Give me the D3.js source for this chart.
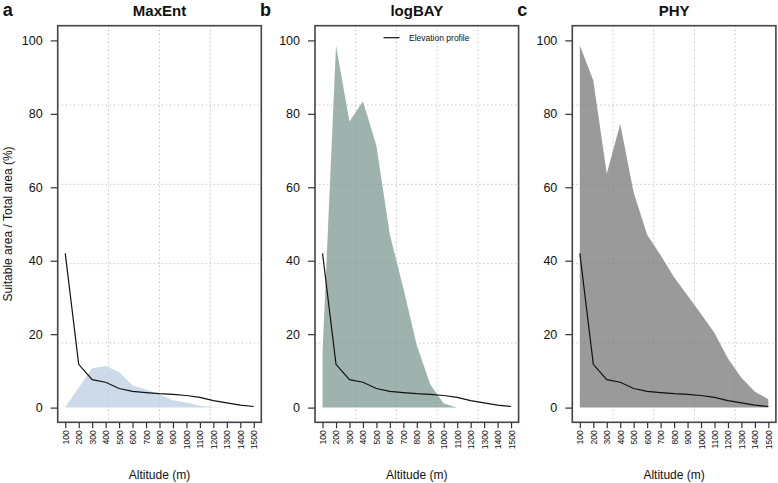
<!DOCTYPE html>
<html><head><meta charset="utf-8">
<script src="https://cdn.jsdelivr.net/npm/d3@7"></script>
<style>
body{margin:0;background:#fff}
svg{display:block;font-family:"Liberation Sans",Arial,Helvetica,sans-serif}
</style>
</head><body>
<svg id="chart" width="778" height="483"></svg>
<script>
// ---- data ----
const altitudes = [100,200,300,400,500,600,700,800,900,1000,1100,1200,1300,1400,1500];
const elevationProfile = [42.0,11.8,7.6,6.9,5.2,4.4,4.1,3.8,3.6,3.3,2.8,1.9,1.3,0.7,0.3];
const maxentArea = [0,5.5,10.7,11.3,9.7,6.0,4.9,3.6,2.0,1.4,0.5,0.2,0,0,0];
const logbayArea = [15,98.6,77.9,83.4,71.3,47.1,32.5,17.0,6.3,1.1,0,0,0,0,0];
const phyArea = [98.6,89.1,63.7,77.2,58.5,47.1,41.5,35.5,30.5,25.5,20.3,13.4,8.1,4.3,2.3];
const panelTitles = ["MaxEnt","logBAY","PHY"];
const panelLetters = ["a","b","c"];
const yTicks = [0,20,40,60,80,100];
const xTicks = altitudes;
const legendLabel = "Elevation profile";
const xLabel = "Altitude (m)";
const yLabel = "Suitable area / Total area (%)";

// ---- layout / styles ----
const panelLeft = [57.7, 315, 572.3];
const panelW = 203.6;
const plotTop = 25.7, plotBottom = 422.3;
const gridCols = [4,5,5];
const fills = ["#bfd1e5","#86a098","#818181"];
const seriesList = [maxentArea, logbayArea, phyArea];
const xDomain = [44,1556], yDomain = [-4,104];

const svg = d3.select("#chart");

panelTitles.forEach((title, i) => {
  const L = panelLeft[i];
  const x = d3.scaleLinear().domain(xDomain).range([L, L + panelW]);
  const y = d3.scaleLinear().domain(yDomain).range([plotBottom, plotTop]);
  const g = svg.append("g");

  // grid (equal divisions of plot region)
  const gx = d3.range(1, gridCols[i]).map(k => xDomain[0] + (xDomain[1]-xDomain[0]) * k / gridCols[i]);
  const gy = d3.range(1, 5).map(k => yDomain[0] + (yDomain[1]-yDomain[0]) * k / 5);
  g.selectAll(".gx").data(gx).join("line")
    .attr("x1", d => x(d)).attr("x2", d => x(d))
    .attr("y1", plotTop).attr("y2", plotBottom)
    .attr("stroke", "#c4c4c4").attr("stroke-width", 1).attr("stroke-dasharray", "1.5,2.5");
  g.selectAll(".gy").data(gy).join("line")
    .attr("y1", d => y(d)).attr("y2", d => y(d))
    .attr("x1", L).attr("x2", L + panelW)
    .attr("stroke", "#c4c4c4").attr("stroke-width", 1).attr("stroke-dasharray", "1.5,2.5");

  // area
  const vals = seriesList[i];
  const area = d3.area()
    .x((d, j) => x(altitudes[j]))
    .y0(y(0))
    .y1(d => y(d));
  g.append("path").datum(vals).attr("d", area)
    .attr("fill", fills[i]).attr("fill-opacity", 0.8);

  // elevation line
  const line = d3.line().x((d, j) => x(altitudes[j])).y(d => y(d));
  g.append("path").datum(elevationProfile).attr("d", line)
    .attr("fill", "none").attr("stroke", "#111").attr("stroke-width", 1.2);

  // box
  g.append("rect").attr("x", L).attr("y", plotTop)
    .attr("width", panelW).attr("height", plotBottom - plotTop)
    .attr("fill", "none").attr("stroke", "#444").attr("stroke-width", 1.6);

  // y axis
  const ya = g.append("g").attr("transform", `translate(${L},0)`)
    .call(d3.axisLeft(y).tickValues(yTicks).tickSize(7).tickPadding(8).tickSizeOuter(0));
  ya.select(".domain").remove();
  ya.selectAll("line").attr("stroke", "#333").attr("stroke-width", 1.2);
  ya.selectAll("text").attr("font-size", "12.5px").attr("fill", "#111")
    .attr("font-family", '"Liberation Sans",Arial,sans-serif');

  // x axis
  const xa = g.append("g").attr("transform", `translate(0,${plotBottom})`)
    .call(d3.axisBottom(x).tickValues(xTicks).tickFormat(d3.format("d")).tickSize(6).tickSizeOuter(0));
  xa.select(".domain").remove();
  xa.selectAll("line").attr("stroke", "#333").attr("stroke-width", 1.2);
  xa.selectAll("text")
    .attr("transform", "rotate(-90)")
    .attr("x", -8).attr("y", 0).attr("dy", "0.35em")
    .attr("text-anchor", "end")
    .attr("font-size", "8.5px").attr("fill", "#111")
    .attr("font-family", '"Liberation Sans",Arial,sans-serif');

  // titles
  g.append("text").attr("x", L + panelW / 2).attr("y", 15.5)
    .attr("text-anchor", "middle").attr("font-weight", "bold").attr("font-size", "15px")
    .attr("fill", "#111").text(title);
  g.append("text").attr("x", L - 55).attr("y", 15.5)
    .attr("font-weight", "bold").attr("font-size", "18px")
    .attr("fill", "#111").text(panelLetters[i]);

  // x label
  g.append("text").attr("x", L + panelW / 2).attr("y", 478.5)
    .attr("text-anchor", "middle").attr("font-size", "12px").attr("fill", "#111").text(xLabel);

  if (i === 0) {
    svg.append("text").attr("transform", `translate(11.5,${(plotTop + plotBottom) / 2}) rotate(-90)`)
      .attr("text-anchor", "middle").attr("font-size", "12px").attr("fill", "#111").text(yLabel);
  }
  if (i === 1) {
    g.append("line").attr("x1", L + 68.5).attr("x2", L + 84.5)
      .attr("y1", 37.7).attr("y2", 37.7).attr("stroke", "#111").attr("stroke-width", 1.2);
    g.append("text").attr("x", L + 94).attr("y", 40.6)
      .attr("font-size", "8.5px").attr("fill", "#111").text(legendLabel);
  }
});
</script>
</body></html>
